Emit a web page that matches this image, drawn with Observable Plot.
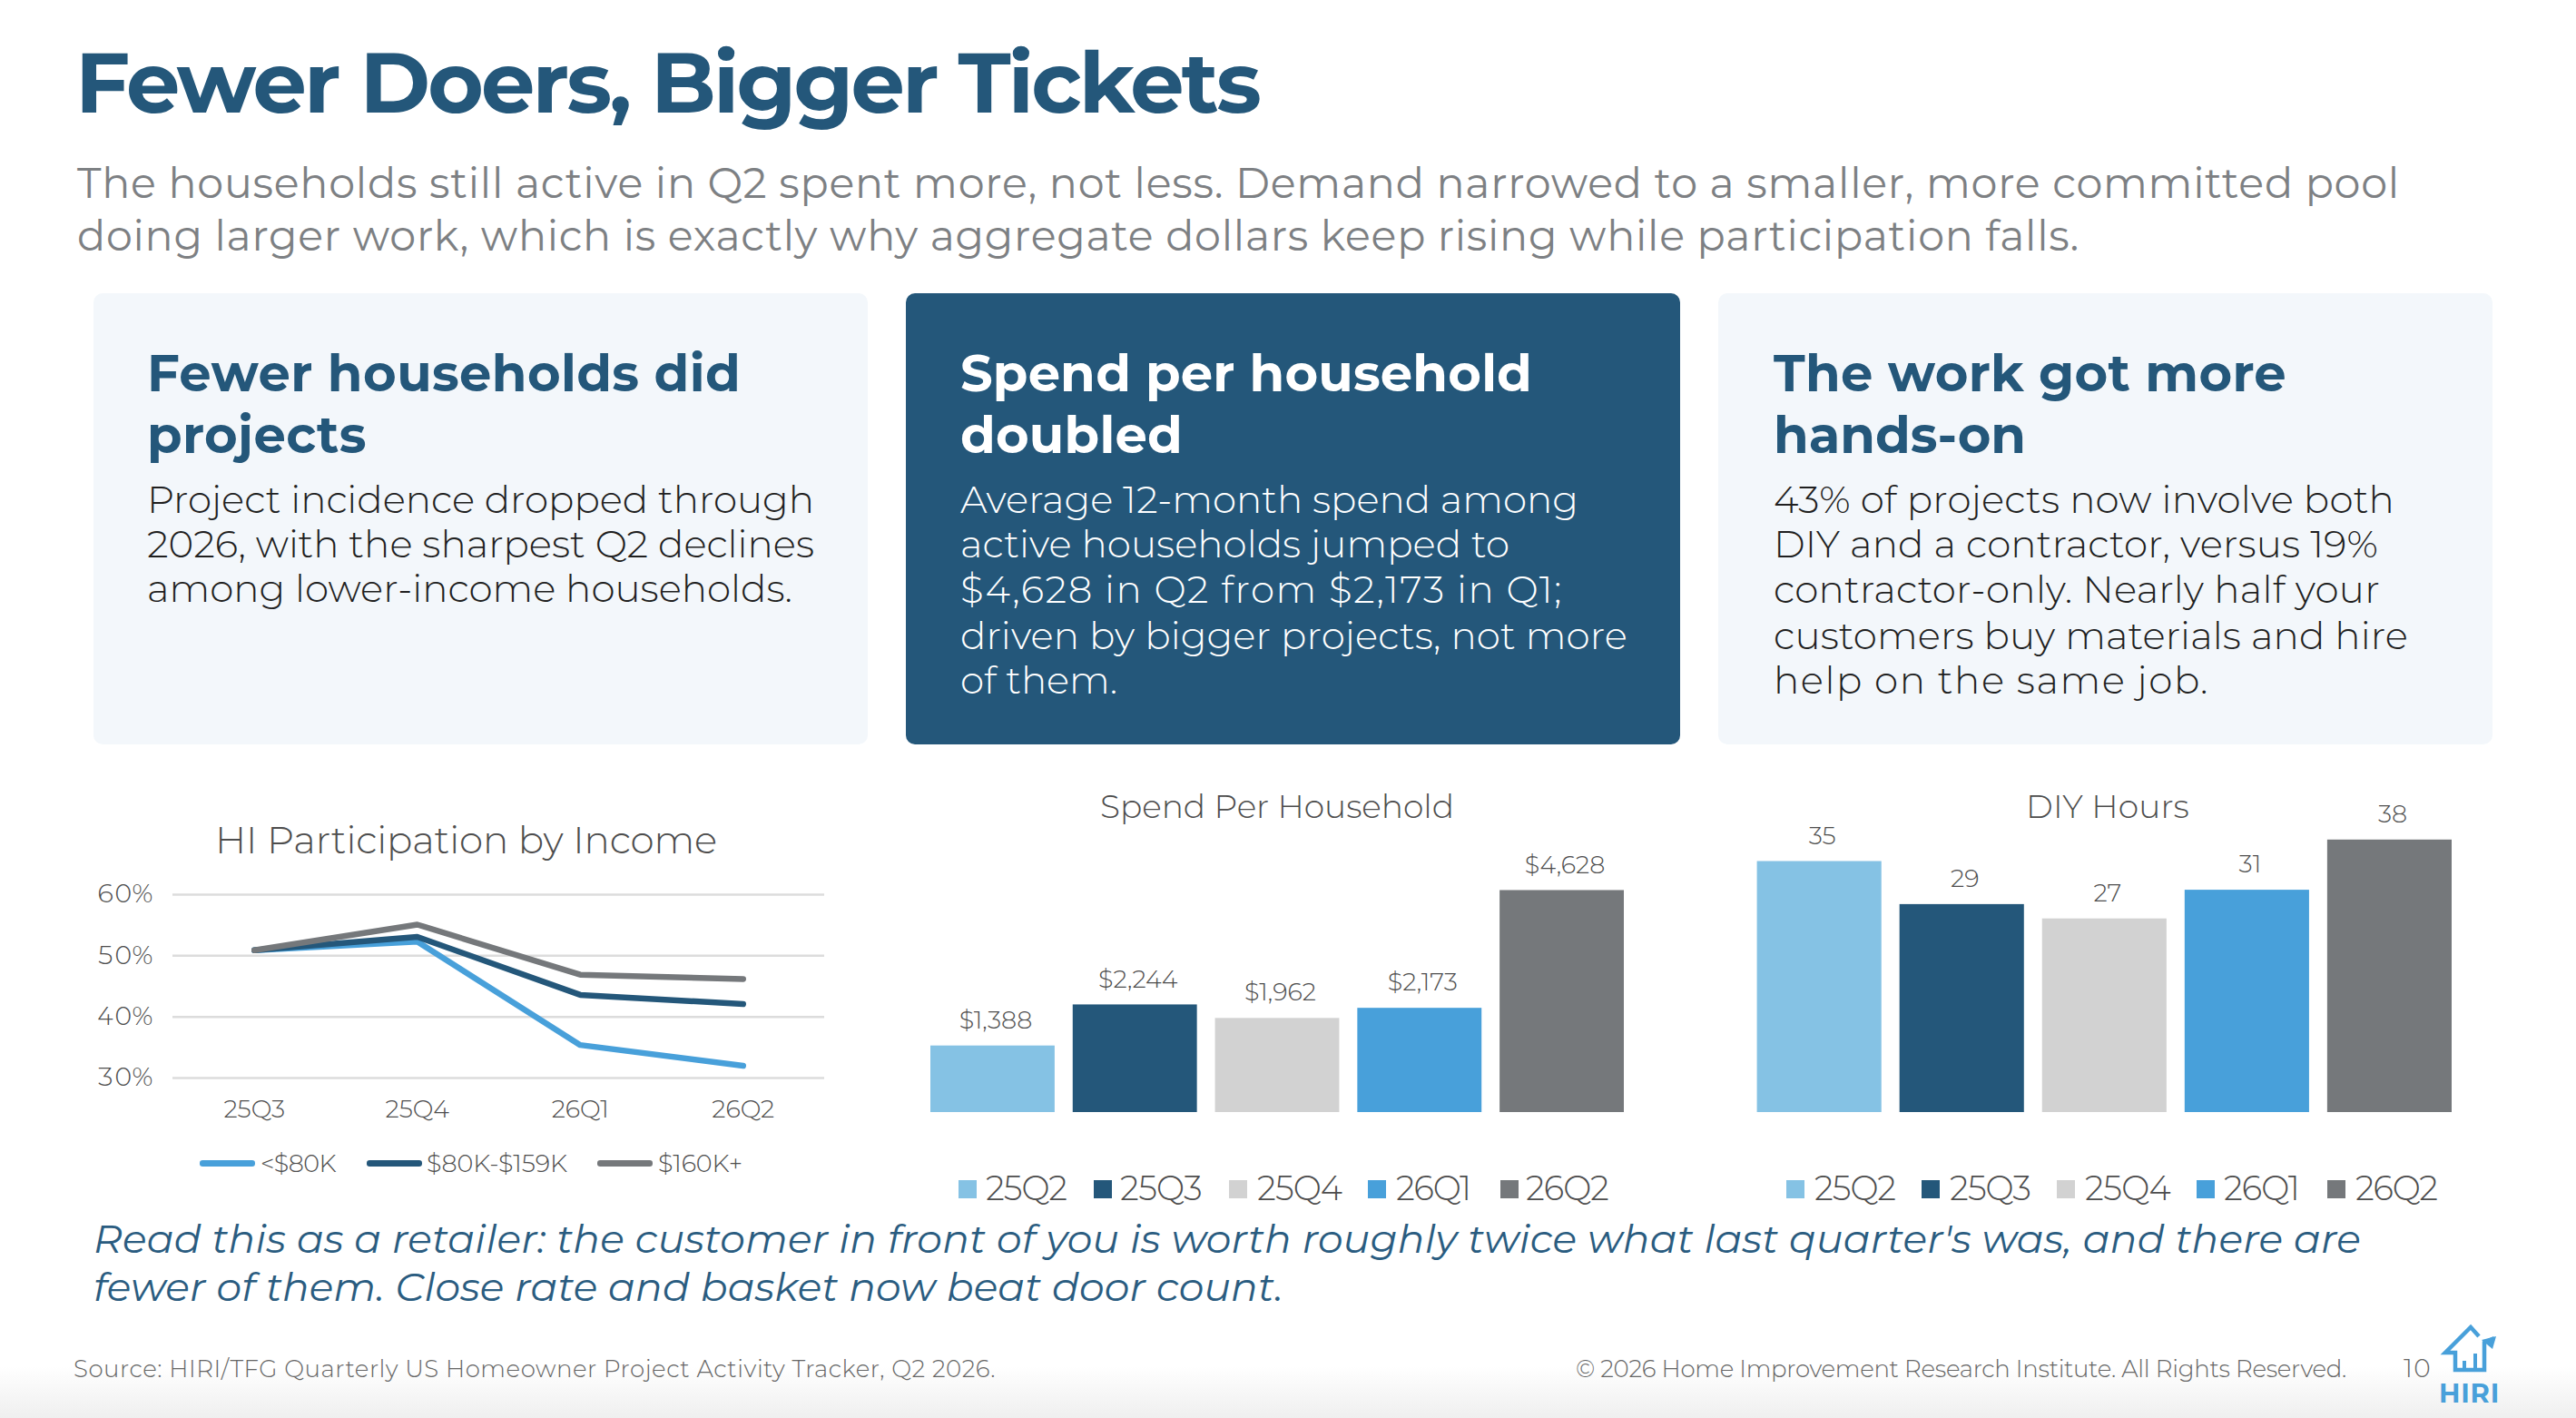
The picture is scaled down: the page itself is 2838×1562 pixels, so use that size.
<!DOCTYPE html>
<html>
<head>
<meta charset="utf-8">
<title>Fewer Doers, Bigger Tickets</title>
<script src="https://cdn.jsdelivr.net/npm/d3@7"></script>
<script src="https://cdn.jsdelivr.net/npm/@observablehq/plot@0.6"></script>
<style>
html,body{margin:0;padding:0;background:#fff}
body{position:relative;width:2838px;height:1562px;overflow:hidden;font-family:Montserrat,Inter,"Noto Sans",sans-serif;
background:linear-gradient(to bottom,#fff 0,#fff 1505px,#efefef 1562px)}
.box{position:absolute}
.t{position:absolute;white-space:pre;line-height:1}
</style>
</head>
<body>
<script>
// ---------- chart data ----------
const lineQuarters = ["25Q3","25Q4","26Q1","26Q2"];
const under80k = [50.9,52.3,35.4,32];
const mid80to159k = [50.9,53.1,43.6,42.1];
const over160k = [50.9,55.1,46.9,46.2];
const incomeNames = ["<$80K","$80K-$159K","$160K+"];
const incomeColors = ["#48a0da","#24577a","#75787b"];
const percentTicks = [30,40,50,60];
const barQuarters = ["25Q2","25Q3","25Q4","26Q1","26Q2"];
const spendPerHousehold = [1388,2244,1962,2173,4628];
const diyHours = [35,29,27,31,38];
const barColors = ["#85c2e4","#24577a","#d2d2d2","#48a0da","#75787b"];

// ---------- page helpers ----------
const FONT = 'Montserrat,Inter,"Noto Sans",sans-serif';
function box(x,y,w,h,bg,r){
  const d=document.createElement("div");d.className="box";
  d.style.cssText=`left:${x}px;top:${y}px;width:${w}px;height:${h}px;background:${bg};border-radius:${r||0}px`;
  document.body.appendChild(d);return d;
}
function put(text,x,base,w,size,weight,color,italic){
  const d=document.createElement("div");d.className="t";
  d.textContent=text;
  d.style.cssText=`left:${x}px;top:0;font-size:${size}px;font-weight:${weight};color:${color};font-style:${italic?"italic":"normal"};font-family:${FONT}`;
  const p=document.createElement("span");
  p.style.cssText="display:inline-block;width:0;height:0";
  d.appendChild(p);
  document.body.appendChild(d);
  const off=p.getBoundingClientRect().bottom;
  d.removeChild(p);
  d.style.top=(base-off)+"px";
  if(w){
    const got=d.getBoundingClientRect().width;
    d.style.letterSpacing=((w-got)/text.length)+"px";
  }
  return d;
}
function putLines(lines,x,size,weight,color,italic){
  lines.forEach(([s,base,w])=>put(s,x,base,w,size,weight,color,italic));
}
function mount(plot,x,y){
  const d=document.createElement("div");d.className="box";
  d.style.left=x+"px";d.style.top=y+"px";
  d.appendChild(plot);document.body.appendChild(d);
}

// ---------- header ----------
put("Fewer Doers, Bigger Tickets",83,124,1304,94,700,"#24577a");
putLines([
 ["The households still active in Q2 spent more, not less. Demand narrowed to a smaller, more committed pool",218,2559],
 ["doing larger work, which is exactly why aggregate dollars keep rising while participation falls.",276,2206]
],85,46,400,"#7d8083");

// ---------- cards ----------
box(103,323,853,497,"#f3f7fb",10);
box(998,323,853,497,"#24577a",10);
box(1893,323,853,497,"#f3f7fb",10);
putLines([["Fewer households did",431,654],["projects",499,242]],162,56,700,"#24577a");
putLines([
 ["Project incidence dropped through",565,735],
 ["2026, with the sharpest Q2 declines",614,735],
 ["among lower-income households.",663,711]
],162,42,300,"#1f1f1f");
putLines([["Spend per household",431,630],["doubled",499,245]],1058,56,700,"#ffffff");
putLines([
 ["Average 12-month spend among",565,681],
 ["active households jumped to",614,605],
 ["$4,628 in Q2 from $2,173 in Q1;",664,664],
 ["driven by bigger projects, not more",715,735],
 ["of them.",764,173]
],1058,42,300,"#ffffff");
putLines([["The work got more",431,565],["hands-on",499,278]],1954,56,700,"#24577a");
putLines([
 ["43% of projects now involve both",565,684],
 ["DIY and a contractor, versus 19%",614,666],
 ["contractor-only. Nearly half your",664,668],
 ["customers buy materials and hire",715,699],
 ["help on the same job.",764,480]
],1954,42,300,"#1f1f1f");

// ---------- chart titles ----------
put("HI Participation by Income",237,940,553,42,300,"#4d4d4d");
put("Spend Per Household",1212,901,390,36,300,"#4d4d4d");
put("DIY Hours",2232,901,180,36,300,"#4d4d4d");

// ---------- line chart ----------
const incomeRows = [under80k,mid80to159k,over160k].flatMap((vals,i)=>
  vals.map((v,j)=>({quarter:lineQuarters[j],income:incomeNames[i],value:v})));
mount(Plot.plot({
  width:840,height:300,marginLeft:110,marginRight:12,marginTop:35,marginBottom:63,
  style:{background:"transparent",fontFamily:FONT,fontSize:"27px",fontWeight:300,color:"#4d4d4d",overflow:"visible"},
  x:{type:"point",domain:lineQuarters,padding:0.5,round:false,label:null},
  y:{domain:[30,60],label:null},
  color:{domain:incomeNames,range:incomeColors},
  marks:[
    Plot.ruleY(percentTicks,{stroke:"#dcdcdc",strokeWidth:2.5}),
    Plot.axisY({ticks:percentTicks,tickSize:0,tickPadding:22,tickFormat:d=>d+"%",label:null,fontSize:28}),
    Plot.axisX({tickSize:0,tickPadding:24,label:null,fontSize:27}),
    Plot.line(incomeRows,{x:"quarter",y:"value",z:"income",stroke:"income",strokeWidth:6.5,strokeLinecap:"round",strokeLinejoin:"round"})
  ]
}),80,950);

// line legend
const lineLegend = [[220,281,287,370],[404,465,470,625],[658,719,725,818]];
incomeNames.forEach((n,i)=>{
  const [a,b,c,e]=lineLegend[i];
  box(a,1278,b-a,6.5,incomeColors[i],3.2);
  put(n,c,1291,e-c,27,300,"#4d4d4d");
});

// ---------- bar charts ----------
function barChart(values,fmt,domainMax,ml,mr,mt){
  const rows=barQuarters.map((q,i)=>({q,v:values[i]}));
  return Plot.plot({
    width:880,height:400,marginLeft:ml,marginRight:mr,marginTop:mt,marginBottom:35,
    style:{background:"transparent",fontFamily:FONT,fontSize:"27px",fontWeight:300,color:"#4d4d4d",overflow:"visible"},
    x:{domain:barQuarters,paddingInner:0.127,paddingOuter:0,round:false,axis:null},
    y:{domain:[0,domainMax],axis:null},
    color:{domain:barQuarters,range:barColors},
    marks:[
      Plot.barY(rows,{x:"q",y:"v",fill:"q"}),
      Plot.text(rows,{x:"q",y:"v",text:d=>fmt(d.v),dy:-28,dx:3,lineAnchor:"middle",fill:"#4d4d4d",fontSize:27})
    ]
  });
}
mount(barChart(spendPerHousehold,d3.format("$,"),5000,25,91,100.8),1000,860);
mount(barChart(diyHours,d3.format("d"),40,35.6,79,49),1900,860);

// bar legends
const spendLegend = [[1056,1086,1175],[1205,1234,1324],[1354,1385,1478],[1507,1538,1620],[1653,1681,1772]];
const diyLegend = [[1968,1999,2088],[2117,2148,2237],[2266,2297,2391],[2420,2450,2533],[2564,2595,2685]];
[spendLegend,diyLegend].forEach(lg=>lg.forEach(([s,a,b],i)=>{
  box(s,1300,19.5,19.5,barColors[i],0);
  put(barQuarters[i],a,1322,b-a,37,300,"#4d4d4d");
}));

// ---------- takeaway ----------
putLines([
 ["Read this as a retailer: the customer in front of you is worth roughly twice what last quarter's was, and there are",1380,2498],
 ["fewer of them. Close rate and basket now beat door count.",1433,1311]
],103,44,400,"#2a5c80",true);

// ---------- footer ----------
put("Source: HIRI/TFG Quarterly US Homeowner Project Activity Tracker, Q2 2026.",81,1517,1016,26,300,"#666666");
put("© 2026 Home Improvement Research Institute. All Rights Reserved.",1736,1517,849,26,300,"#666666");
put("10",2648,1517,31,28,300,"#666666");

// logo
const logo=document.createElement("div");logo.className="box";
logo.style.cssText="left:2688px;top:1455px;width:70px;height:62px";
logo.innerHTML=`<svg width="70" height="62" viewBox="0 0 70 62" style="display:block" fill="none" stroke="#48a0da" stroke-width="4.5" stroke-linejoin="miter">
<path d="M43 17L34 7L6 35H17V54H49V24L60 19"/>
<path d="M62 17L46 21L58 31Z" fill="#48a0da" stroke="none"/>
<path d="M27 54V44M39 54V36" stroke-width="4"/></svg>`;
document.body.appendChild(logo);
put("HIRI",2687,1545,67,29,700,"#48a0da");
</script>
</body>
</html>
